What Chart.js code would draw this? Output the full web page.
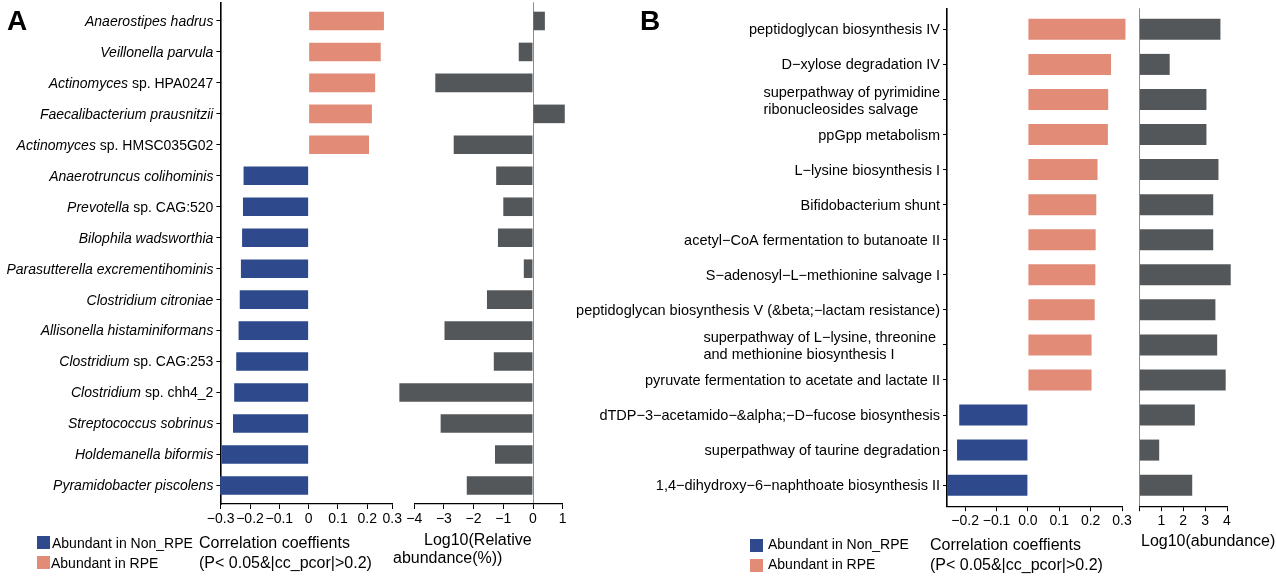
<!DOCTYPE html>
<html>
<head>
<meta charset="utf-8">
<script src="https://cdn.jsdelivr.net/npm/chart.js@4.4.1/dist/chart.umd.min.js"></script>
<style>
  html, body { margin: 0; padding: 0; background: #fff; }
  #wrap { position: relative; width: 1276px; height: 576px; overflow: hidden; font-family: "Liberation Sans", Arial, sans-serif; color: #000; }
  #wrap canvas { position: absolute; left: 0; top: 0; }
  .t { position: absolute; white-space: nowrap; }
  .f14 { font-size: 14px; line-height: 16px; }
  .f16 { font-size: 16px; line-height: 18px; }
  .big { font-size: 28px; line-height: 28px; font-weight: bold; }
  .sq { position: absolute; width: 13px; height: 13px; }
</style>
</head>
<body>
<div id="wrap">
  <canvas id="a1" width="1276" height="576"></canvas>
  <canvas id="a2" width="1276" height="576"></canvas>
  <canvas id="b1" width="1276" height="576"></canvas>
  <canvas id="b2" width="1276" height="576"></canvas>

  <div class="t big" style="left:7px;top:7px;">A</div>
  <div class="t big" style="left:640px;top:7px;">B</div>

  <div class="sq" style="left:37px;top:536px;background:#2E4A8C;"></div>
  <div class="t f14" style="left:52px;top:535px;">Abundant in Non_RPE</div>
  <div class="sq" style="left:37px;top:556px;background:#E28C78;"></div>
  <div class="t f14" style="left:51px;top:555px;">Abundant in RPE</div>
  <div class="t f16" style="left:199px;top:534px;">Correlation coeffients</div>
  <div class="t f16" style="left:199px;top:554px;">(P&lt; 0.05&amp;|cc_pcor|&gt;0.2)</div>
  <div class="t f16" style="left:424px;top:531px;">Log10(Relative</div>
  <div class="t f16" style="left:393px;top:549px;">abundance(%))</div>

  <div class="sq" style="left:750px;top:539px;background:#2E4A8C;"></div>
  <div class="t f14" style="left:768px;top:536px;">Abundant in Non_RPE</div>
  <div class="sq" style="left:750px;top:559px;background:#E28C78;"></div>
  <div class="t f14" style="left:768px;top:556px;">Abundant in RPE</div>
  <div class="t f16" style="left:930px;top:536px;">Correlation coeffients</div>
  <div class="t f16" style="left:930px;top:556px;">(P&lt; 0.05&amp;|cc_pcor|&gt;0.2)</div>
  <div class="t f16" style="left:1141px;top:532px;">Log10(abundance)</div>
</div>
<script>
// ---------- DATA ----------
const categoriesA = [
  "Anaerostipes hadrus",
  "Veillonella parvula",
  "Actinomyces sp. HPA0247",
  "Faecalibacterium prausnitzii",
  "Actinomyces sp. HMSC035G02",
  "Anaerotruncus colihominis",
  "Prevotella sp. CAG:520",
  "Bilophila wadsworthia",
  "Parasutterella excrementihominis",
  "Clostridium citroniae",
  "Allisonella histaminiformans",
  "Clostridium sp. CAG:253",
  "Clostridium sp. chh4_2",
  "Streptococcus sobrinus",
  "Holdemanella biformis",
  "Pyramidobacter piscolens"
];
const corrA = [0.257, 0.246, 0.227, 0.216, 0.206, -0.222, -0.224, -0.227, -0.231, -0.235, -0.239, -0.247, -0.254, -0.258, -0.297, -0.302];
const logA = [0.40, -0.48, -3.29, 1.07, -2.67, -1.24, -1.00, -1.18, -0.31, -1.55, -2.98, -1.32, -4.50, -3.11, -1.28, -2.23];
const ticksCorrA = [-0.3, -0.2, -0.1, 0, 0.1, 0.2, 0.3];
const ticksLogA = [-4, -3, -2, -1, 0, 1];

const pathwaysB = [
  "peptidoglycan biosynthesis IV",
  "D\u2212xylose degradation IV",
  "superpathway of pyrimidine\nribonucleosides salvage",
  "ppGpp metabolism",
  "L\u2212lysine biosynthesis I",
  "Bifidobacterium shunt",
  "acetyl\u2212CoA fermentation to butanoate II",
  "S\u2212adenosyl\u2212L\u2212methionine salvage I",
  "peptidoglycan biosynthesis V (&beta;\u2212lactam resistance)",
  "superpathway of L\u2212lysine, threonine \nand methionine biosynthesis I",
  "pyruvate fermentation to acetate and lactate II",
  "dTDP\u22123\u2212acetamido\u2212&alpha;\u2212D\u2212fucose biosynthesis",
  "superpathway of taurine degradation",
  "1,4\u2212dihydroxy\u22126\u2212naphthoate biosynthesis II"
];
const corrB = [0.311, 0.265, 0.256, 0.255, 0.222, 0.218, 0.216, 0.215, 0.213, 0.203, 0.203, -0.219, -0.226, -0.258];
const logB = [3.70, 1.38, 3.06, 3.06, 3.61, 3.37, 3.37, 4.17, 3.47, 3.55, 3.94, 2.53, 0.90, 2.41];
const ticksCorrB = [-0.2, -0.1, 0, 0.1, 0.2, 0.3];
const ticksLogB = [0, 1, 2, 3, 4];

// ---------- STYLE ----------
const FONT = '"Liberation Sans", Arial, sans-serif';
const PINK = '#E28C78', BLUE = '#2E4A8C', GREY = '#54575A';
const W = 1276, H = 576, XH = 40;
const minus = s => s.replace('-', '\u2212');

function labelPluginA() {
  return {
    id: 'labA',
    afterDraw(chart) {
      const ctx = chart.ctx, ys = chart.scales.y, x = chart.chartArea.left - 7;
      ctx.save();
      ctx.fillStyle = '#000';
      ctx.textBaseline = 'middle';
      ctx.textAlign = 'left';
      categoriesA.forEach((lab, i) => {
        const y = ys.getPixelForValue(i) + 1;
        const k = lab.indexOf(' sp. ');
        const parts = k >= 0 ? [[lab.slice(0, k), true], [lab.slice(k), false]] : [[lab, true]];
        let w = 0;
        parts.forEach(p => { ctx.font = (p[1] ? 'italic ' : '') + '14px ' + FONT; p[2] = ctx.measureText(p[0]).width; w += p[2]; });
        let cx = x - w;
        parts.forEach(p => { ctx.font = (p[1] ? 'italic ' : '') + '14px ' + FONT; ctx.fillText(p[0], cx, y); cx += p[2]; });
      });
      ctx.restore();
    }
  };
}

function labelPluginB() {
  return {
    id: 'labB',
    afterDraw(chart) {
      const ctx = chart.ctx, ys = chart.scales.y, x = chart.chartArea.left - 7;
      ctx.save();
      ctx.fillStyle = '#000';
      ctx.textBaseline = 'middle';
      ctx.textAlign = 'left';
      ctx.font = '14.5px ' + FONT;
      pathwaysB.forEach((lab, i) => {
        const y = ys.getPixelForValue(i) + 1;
        const lines = lab.split('\n');
        const bw = Math.max(...lines.map(l => ctx.measureText(l).width));
        lines.forEach((l, k) => {
          ctx.fillText(l, x - bw, y + (k - (lines.length - 1) / 2) * 17 + (lines.length > 1 ? 1 : 0));
        });
      });
      ctx.restore();
    }
  };
}

function panel(id, o) {
  return new Chart(document.getElementById(id), {
    type: 'bar',
    data: {
      datasets: [{
        data: o.values.map((v, i) => ({ x: v, y: i })),
        backgroundColor: o.values.map(o.color),
        borderWidth: 0,
        barPercentage: 0.6,
        categoryPercentage: 1,
        clip: false
      }]
    },
    options: {
      indexAxis: 'y',
      responsive: false,
      animation: false,
      events: [],
      layout: { padding: { left: o.l, top: o.t, right: W - o.r, bottom: H - o.b - XH } },
      plugins: { legend: { display: false }, tooltip: { enabled: false } },
      scales: {
        x: {
          type: 'linear', position: 'bottom', min: o.xmin, max: o.xmax,
          // the last tick label sits at the end of the axis line, as in the original figure
          afterBuildTicks: s => { s.ticks = o.ticks.map(v => ({ value: Math.min(v, o.xmax), raw: v })); },
          afterFit: s => { s.height = XH; },
          ticks: {
            callback: (v, i, t) => o.fmt(t[i].raw),
            font: { family: FONT, size: 14 }, color: '#000', padding: 2, autoSkip: false, maxRotation: 0, minRotation: 0
          },
          grid: {
            drawOnChartArea: !!o.zero,
            color: c => (o.zero && c.tick && c.tick.value === 0) ? '#8c8c8c' : 'rgba(0,0,0,0)',
            tickColor: '#000', tickLength: 5, lineWidth: 1
          },
          border: { display: true, color: '#000', width: 1.3 }
        },
        y: {
          type: 'linear', min: o.ymin, max: o.ymax, reverse: true, display: o.axisY, offset: false,
          afterBuildTicks: s => { s.ticks = o.values.map((v, i) => ({ value: i })); },
          afterFit: s => { s.width = 0; },
          ticks: { display: false },
          grid: { drawOnChartArea: false, color: '#000', tickLength: 4, offset: false },
          border: { display: true, color: '#000', width: 1.6 }
        }
      }
    },
    plugins: o.plugin ? [o.plugin] : []
  });
}

const corrColor = v => v > 0 ? PINK : BLUE;

panel('a1', {
  values: corrA, color: corrColor, xmin: -0.301, xmax: 0.2855, ticks: ticksCorrA,
  fmt: v => v === 0 ? '0' : minus(v.toFixed(1)),
  l: 220.4, r: 392.3, t: 2.4, b: 504, ymin: -0.6, ymax: 15.6, axisY: true, zero: false,
  plugin: labelPluginA()
});
panel('a2', {
  values: logA, color: () => GREY, xmin: -4, xmax: 1, ticks: ticksLogA,
  fmt: v => minus(String(v)),
  l: 414.2, r: 562.7, t: 2.4, b: 504, ymin: -0.6, ymax: 15.6, axisY: false, zero: true
});
panel('b1', {
  values: corrB, color: corrColor, xmin: -0.258, xmax: 0.3, ticks: ticksCorrB,
  fmt: v => minus(v.toFixed(1)),
  l: 947, r: 1122, t: 8.3, b: 506.2, ymin: -0.6, ymax: 13.6, axisY: true, zero: false,
  plugin: labelPluginB()
});
panel('b2', {
  values: logB, color: () => GREY, xmin: 0, xmax: 4, ticks: ticksLogB,
  fmt: v => v === 0 ? '' : String(v),
  l: 1139.5, r: 1227, t: 8.3, b: 506.2, ymin: -0.6, ymax: 13.6, axisY: false, zero: true
});
</script>
</body>
</html>
